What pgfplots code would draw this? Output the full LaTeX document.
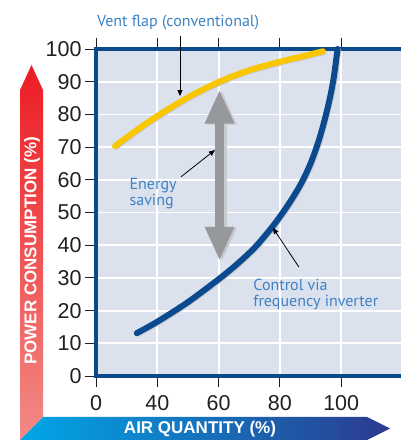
\documentclass[border=0pt]{standalone}
\usepackage{pgfplots}
\pgfplotsset{compat=1.18}
\usetikzlibrary{arrows.meta}
\usepackage{fontspec}
\setmainfont{Liberation Sans}
\newfontfamily\annfont{PT Sans}
\definecolor{bgblue}{HTML}{DCE1EE}
\definecolor{frameblue}{HTML}{0A4A8C}
\definecolor{curveblue}{HTML}{0B4A8E}
\definecolor{flapyellow}{HTML}{F8C700}
\definecolor{arrowgray}{HTML}{97989C}
\definecolor{shadowgray}{HTML}{C9CACE}
\definecolor{anntext}{HTML}{3E82C4}
\definecolor{ticktext}{HTML}{231F20}
\definecolor{redtop}{HTML}{EC1C24}
\definecolor{redbot}{HTML}{F28B86}
\definecolor{bluel}{HTML}{00A7E7}
\definecolor{bluer}{HTML}{2C3A8F}

\pgfplotstableread{
x y
26.2 70.3
33 75.0
40 79.5
50 85.2
60 89.9
70 93.5
80 96.1
88 97.9
94 99.3
}\ventflap

\pgfplotstableread{
x y
33.3 13.1
40 16.6
50 22.6
60 29.6
66 34.2
72 39.5
78 46.2
83 52.8
87 59.0
90 65.0
92.5 71.5
94.5 78.0
96.3 85.0
97.6 91.5
98.8 100
}\inverter

\begin{document}
\begin{tikzpicture}[x=1pt,y=1pt]
\useasboundingbox (0,0) rectangle (401,440);
\shade[top color=redtop, bottom color=redbot] (20,0) -- (20,350) -- (31.5,375) -- (43,350) -- (43,23) -- cycle;
\shade[left color=bluel, right color=bluer] (20,0) -- (43,23) -- (367,23) -- (390,11.5) -- (367,0) -- cycle;
\node[rotate=90, text=white, font=\bfseries\fontsize{17}{20}\selectfont] at (32,189) {POWER CONSUMPTION (\%)};
\node[text=white, font=\bfseries\fontsize{17}{20}\selectfont] at (200,10.5) {AIR QUANTITY (\%)};

\begin{axis}[
  at={(96pt,64pt)}, anchor=south west,
  scale only axis, width=309.6pt, height=327pt,
  xmin=20, xmax=121, ymin=0, ymax=100,
  axis background/.style={fill=bgblue},
  axis line style={draw=frameblue, line width=4pt},
  xtick={20,40,60,80,100}, xticklabels={0,40,60,80,100},
  ytick={0,10,20,30,40,50,60,70,80,90,100},
  grid=major, grid style={white, line width=1.8pt},
  tick align=outside, major tick length=11pt,
  tick style={ticktext, line width=0.9pt},
  xtick pos=both, ytick pos=left,
  xticklabel pos=left,
  /pgf/number format/assume math mode=true,
  tick label style={font=\fontsize{21.5}{24}\selectfont, text=ticktext},
  xticklabel style={yshift=-5pt},
  clip=false,
]
% shadows
\addplot[shadowgray, line width=5pt, smooth, line cap=round, xshift=1.2pt, yshift=-1.2pt] table[x=x,y=y] {\ventflap};
\addplot[shadowgray, line width=5pt, smooth, line cap=round, xshift=1.2pt, yshift=-1.2pt] table[x=x,y=y] {\inverter};
% curves
\addplot[flapyellow, line width=6pt, smooth, line cap=round] table[x=x,y=y] {\ventflap};
\addplot[curveblue, line width=6pt, smooth, line cap=round] table[x=x,y=y] {\inverter};
% energy saving double arrow
\draw[shadowgray, line width=9pt, {Triangle[length=34pt,width=27pt]}-{Triangle[length=34pt,width=27pt]}]
  ([xshift=2.5pt,yshift=-1pt]axis cs:60.3,35.2) -- ([xshift=2.5pt,yshift=-1pt]axis cs:60.3,87.6);
\draw[arrowgray, line width=9pt, {Triangle[length=34pt,width=27pt]}-{Triangle[length=34pt,width=27pt]}]
  (axis cs:60.3,35.2) -- (axis cs:60.3,87.6);
% annotation arrows
\draw[black, line width=0.8pt, -{Triangle[length=6pt,width=5pt]}] (axis cs:47.4,104) -- (axis cs:47.4,85.6);
\draw[black, line width=0.8pt, -{Triangle[length=6pt,width=5pt]}] (axis cs:47.7,60.9) -- (axis cs:58.8,69.1);
\draw[black, line width=0.8pt, -{Triangle[length=6pt,width=5pt]}] (axis cs:86.2,33.3) -- (axis cs:77.7,45.3);
% texts
\node[anchor=base west, text=anntext, font=\annfont\fontsize{16}{19}\selectfont, inner sep=0pt] at (axis cs:20.3,107) {Vent flap (conventional)};
\node[anchor=base west, text=anntext, font=\annfont\fontsize{16}{19}\selectfont, inner sep=0pt] at (axis cs:30.9,57.1) {Energy};
\node[anchor=base west, text=anntext, font=\annfont\fontsize{16}{19}\selectfont, inner sep=0pt] at (axis cs:30.9,52.2) {saving};
\node[anchor=base west, text=anntext, font=\annfont\fontsize{16}{19}\selectfont, inner sep=0pt] at (axis cs:71.3,26.1) {Control via};
\node[anchor=base west, text=anntext, font=\annfont\fontsize{16}{19}\selectfont, inner sep=0pt] at (axis cs:71.3,21.2) {frequency inverter};
\end{axis}
\end{tikzpicture}
\end{document}
